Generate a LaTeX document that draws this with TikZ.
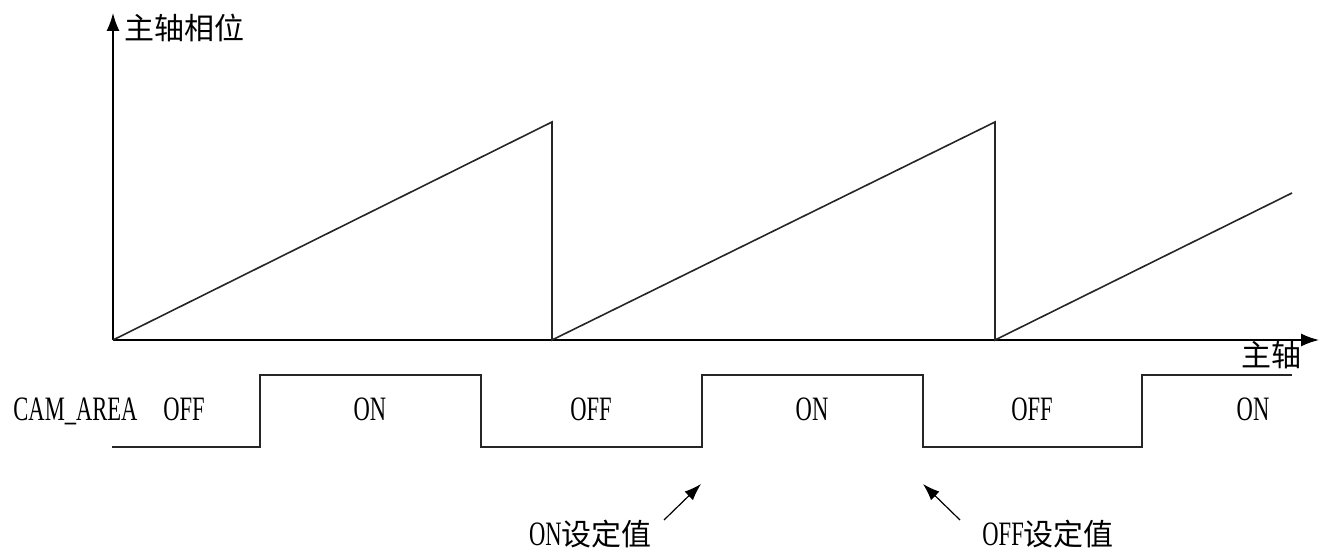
\documentclass[tikz,border=0pt]{standalone}
\usepackage{fontspec}
\setmainfont{Liberation Serif}[FakeStretch=0.66, Scale=1.14]
\newfontfamily\cjk{Noto Sans CJK SC}
\usetikzlibrary{arrows.meta}
\begin{document}
\begin{tikzpicture}[
    x=0.5pt, y=-0.5pt,
    font=\fontsize{15}{18}\selectfont,
    axis/.style={draw=black, line width=0.8pt, -{Latex[length=9pt, width=6.5pt]}},
    curve/.style={draw=black!85, line width=0.8pt},
    pointer/.style={draw=black, line width=0.6pt, -{Latex[length=8.5pt, width=6pt]}},
    txt/.style={inner sep=0pt},
]
    \useasboundingbox (0,0) rectangle (1319,551);

    % Axes
    \coordinate (O) at (113,340);
    \coordinate (ytip) at (113,13);
    \coordinate (xtip) at (1319,340);
    \draw[axis] (O) -- (ytip);
    \draw[axis] (O) -- (xtip);
    \node[txt, anchor=west] (ylab) at (124,28) {\cjk 主轴相位};
    \node[txt, anchor=east] (xlab) at (1302,355) {\cjk 主轴};

    % Spindle phase (sawtooth)
    \draw[curve] (O) -- (552,122) -- (552,340) -- (995,122) -- (995,340) -- (1292,193);

    % CAM_AREA signal
    \draw[curve] (112,447) -- (260,447) -- (260,375) -- (481,375) -- (481,447)
        -- (702,447) -- (702,375) -- (923,375) -- (923,447)
        -- (1142,447) -- (1142,375) -- (1292,375);
    \node[txt, anchor=base west] (cam) at (13,420) {CAM\_AREA};
    \foreach \x/\s [count=\i] in {184/OFF, 370/ON, 591/OFF, 812/ON, 1032/OFF, 1253/ON}
        \node[txt, anchor=base] (state\i) at (\x,420) {\s};

    % Set values
    \node[txt, anchor=base east] (onset) at (652,545) {ON{\cjk 设定值}};
    \node[txt, anchor=base west] (offset) at (982,545) {OFF{\cjk 设定值}};
    \coordinate (onfrom) at (664,520);
    \coordinate (onedge) at (701,484);
    \coordinate (offfrom) at (960,520);
    \coordinate (offedge) at (923,484);
    \draw[pointer] (onfrom) -- (onedge);
    \draw[pointer] (offfrom) -- (offedge);
\end{tikzpicture}
\end{document}
